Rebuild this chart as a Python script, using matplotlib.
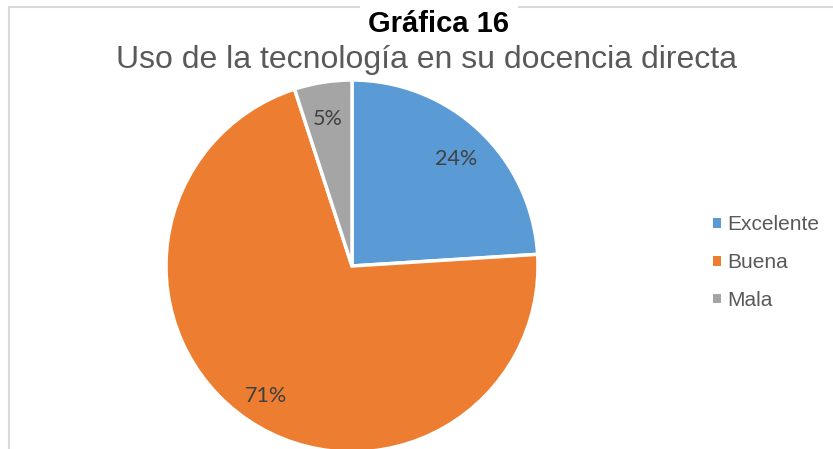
import matplotlib
matplotlib.use("Agg")
import matplotlib.pyplot as plt
from matplotlib.patches import Rectangle, Patch

categories = ["Excelente", "Buena", "Mala"]
values = [24, 71, 5]
colors = ["#5B9BD5", "#ED7D31", "#A5A5A5"]
title = "Gráfica 16"
subtitle = "Uso de la tecnología en su docencia directa"

W, H = 833, 449
fig = plt.figure(figsize=(W / 100, H / 100), dpi=100)
fig.patch.set_facecolor("white")

# chart-area border (partially visible)
border = Rectangle((8.5 / W, -0.2), 1.5, (H - 6.5) / H + 0.2, transform=fig.transFigure,
                   fill=False, edgecolor="#D9D9D9", linewidth=1.5, zorder=0)
fig.add_artist(border)

cx, cy, r = 352, 266, 186
ax = fig.add_axes([0, 0, 1, 1])
wedges, texts, autotexts = ax.pie(
    values, colors=colors, startangle=90, counterclock=False, radius=1,
    wedgeprops=dict(edgecolor="white", linewidth=2.5),
    autopct=lambda p: f"{p:.0f}%", pctdistance=0.82,
    textprops=dict(color="#404040", fontsize=15.5, family="Lato"))
for t in autotexts:
    x, y = t.get_position()
    t.set_position((x, y - 0.02))
ax.set_aspect("auto")
ax.set_xlim(-cx / r, (W - cx) / r)
ax.set_ylim((cy - H) / r, cy / r)
ax.axis("off")

fig.text(439 / W, 1 - 32 / H, title, ha="center", va="baseline", fontsize=21,
         fontweight="bold", family="Liberation Sans", color="black",
         bbox=dict(facecolor="white", edgecolor="none", pad=6), zorder=5)
fig.text(426.5 / W, 1 - 68 / H, subtitle, ha="center", va="baseline", fontsize=23,
         family="Liberation Sans", color="#595959", zorder=5)

handles = [Patch(facecolor=c, edgecolor="none") for c in colors]
leg = ax.legend(handles, categories, loc="upper left", bbox_to_anchor=(703 / W, 1 - 205 / H),
                bbox_transform=fig.transFigure, frameon=False, borderpad=0,
                handlelength=0.34, handleheight=0.34, handletextpad=0.34,
                labelspacing=0.9, prop=dict(family="Liberation Sans", size=15))
for t in leg.get_texts():
    t.set_color("#595959")

fig.savefig("out.png", dpi=100, facecolor="white")
